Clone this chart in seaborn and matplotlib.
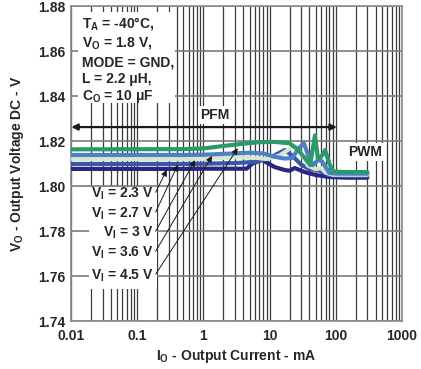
import numpy as np
import pandas as pd
import matplotlib
matplotlib.use("Agg")
import matplotlib.pyplot as plt
from matplotlib.patches import Rectangle
import seaborn as sns

# ---------------- data ----------------
vi_labels = ["2.3", "2.7", "3", "3.6", "4.5"]

x_23 = [0.01, 0.5, 1, 2, 4.5, 5.5, 7.7, 12, 17, 20, 24, 34, 50, 80, 150, 300]
v_23 = [1.8076, 1.8076, 1.8077, 1.8077, 1.8077, 1.8100, 1.8116, 1.8084, 1.8071, 1.8068, 1.8080, 1.8062, 1.8049, 1.8040, 1.8037, 1.8037]

x_27 = [0.01, 0.5, 1, 3, 6, 10, 17, 22, 30, 40, 55, 80, 150, 300]
v_27 = [1.8098, 1.8098, 1.8099, 1.8102, 1.8107, 1.8125, 1.8160, 1.8135, 1.8095, 1.8075, 1.8070, 1.8048, 1.8045, 1.8045]

x_30 = [0.01, 0.5, 1, 3, 6, 9, 14, 20, 24, 30, 38, 50, 60, 70, 90, 150, 300]
v_30 = [1.8120, 1.8120, 1.8121, 1.8128, 1.8126, 1.8120, 1.8135, 1.8165, 1.8180, 1.8145, 1.8090, 1.8075, 1.8080, 1.8060, 1.8050, 1.8050, 1.8050]

x_36 = [0.01, 0.5, 1, 3, 5, 8, 12, 17, 22, 28, 33, 40, 45, 54, 62, 80, 100, 300]
v_36 = [1.8138, 1.8138, 1.8139, 1.8145, 1.8148, 1.8145, 1.8130, 1.8122, 1.8125, 1.8170, 1.8190, 1.8120, 1.8093, 1.8115, 1.8110, 1.8058, 1.8055, 1.8055]

x_45 = [0.01, 0.5, 1, 2, 4, 7, 12, 20, 26, 34, 41, 48.5, 54, 62, 69, 80, 91, 130, 200, 300]
v_45 = [1.8163, 1.8164, 1.8167, 1.8178, 1.8188, 1.8195, 1.8196, 1.8190, 1.8165, 1.8125, 1.8093, 1.8225, 1.8120, 1.8135, 1.8160, 1.8100, 1.8065, 1.8062, 1.8062, 1.8062]

series_x = [x_23, x_27, x_30, x_36, x_45]
series_v = [v_23, v_27, v_30, v_36, v_45]
colors = ["#2b2585", "#3a56a8", "#d6e6cf", "#4f7fc4", "#2a9a6a"]

# arrow tips for V_I labels (current mA, voltage V)
tip_x = [0.28, 0.41, 0.75, 1.35, 3.3]
tip_v = [1.8072, 1.8094, 1.8115, 1.8134, 1.8168]
label_v = [1.7964, 1.7876, 1.7791, 1.7702, 1.7600]

x_ticks = [0.01, 0.1, 1, 10, 100, 1000]
x_tick_labels = ["0.01", "0.1", "1", "10", "100", "1000"]
y_ticks = [1.74, 1.76, 1.78, 1.80, 1.82, 1.84, 1.86, 1.88]

cond_lines = [r"T$_\mathbf{A}$ = -40°C,", r"V$_\mathbf{O}$ = 1.8 V,", "MODE = GND,",
              "L = 2.2 μH,", r"C$_\mathbf{O}$ = 10 μF"]
cond_v = [1.8724, 1.8636, 1.8551, 1.8476, 1.8400]

rows = []
for lab, xs, vs in zip(vi_labels, series_x, series_v):
    for a, b in zip(xs, vs):
        rows.append({"I": a, "V": b, "VI": lab})
df = pd.DataFrame(rows)

# ---------------- style ----------------
sns.set_style("white")
plt.rcParams["font.family"] = ["Liberation Sans", "DejaVu Sans"]
plt.rcParams["font.weight"] = "bold"
plt.rcParams["mathtext.fontset"] = "custom"
plt.rcParams["mathtext.rm"] = "Liberation Sans:bold"
plt.rcParams["mathtext.bf"] = "Liberation Sans:bold"
plt.rcParams["mathtext.default"] = "bf"

fig = plt.figure(figsize=(4.21, 3.69), dpi=100)
ax = fig.add_axes([0.1686, 0.130, 0.7862, 0.8537])

ax.set_xscale("log")
ax.set_xlim(0.01, 1000)
ax.set_ylim(1.74, 1.88)
ax.set_axisbelow(True)

ax.set_xticks(x_ticks)
ax.set_xticklabels(x_tick_labels)
ax.set_yticks(y_ticks)
ax.set_yticklabels([f"{t:.2f}" for t in y_ticks])
ax.tick_params(axis="both", which="both", length=0, labelsize=10)
ax.tick_params(axis="x", pad=6)
ax.tick_params(axis="y", pad=4)
for t in ax.get_xticklabels() + ax.get_yticklabels():
    t.set_fontweight("bold")

ax.grid(True, which="major", axis="y", color="#7a7a7a", lw=1.2)
ax.grid(True, which="both", axis="x", color="#3a3a3a", lw=0.9)
for s in ax.spines.values():
    s.set_color("#8a8a8a")
    s.set_linewidth(1.2)

# white boxes masking grid
ax.add_patch(Rectangle((0.0127, 1.8369), 0.372 - 0.0127, 1.8773 - 1.8369,
                       facecolor="white", edgecolor="none", zorder=1))
ax.add_patch(Rectangle((0.0185, 1.7542), 0.2 - 0.0185, 1.7995 - 1.7542,
                       facecolor="white", edgecolor="none", zorder=1))

sns.lineplot(data=df, x="I", y="V", hue="VI", hue_order=vi_labels,
             palette=colors, sort=False, estimator=None, legend=False,
             lw=3.0, ax=ax, zorder=3)

# condition text
for txt, yv in zip(cond_lines, cond_v):
    ax.text(0.0147, yv, txt, ha="left", va="center", fontsize=10,
            fontweight="bold", zorder=5)

# PFM arrow
ax.annotate("", xy=(0.0101, 1.8262), xytext=(104, 1.8262),
            arrowprops=dict(arrowstyle="<|-|>", color="#1a1a1a", lw=1.6,
                            mutation_scale=9, shrinkA=0, shrinkB=0), zorder=4)
ax.text(1.5, 1.8316, "PFM", ha="center", va="center", fontsize=10,
        fontweight="bold", zorder=5,
        bbox=dict(facecolor="white", edgecolor="none", pad=1.5))
ax.text(276, 1.8151, "PWM", ha="center", va="center", fontsize=10,
        fontweight="bold", zorder=5,
        bbox=dict(facecolor="white", edgecolor="none", pad=1.5))

# V_I labels with leader arrows
for lab, tx, tv, lv in zip(vi_labels, tip_x, tip_v, label_v):
    ax.text(0.178, lv, r"V$_\mathbf{I}$ = " + lab + " V", ha="right", va="center",
            fontsize=10, fontweight="bold", zorder=5)
    ax.annotate("", xy=(tx, tv), xytext=(0.19, lv + 0.0008),
                arrowprops=dict(arrowstyle="-|>", color="#1a1a1a", lw=0.7,
                                mutation_scale=9, shrinkA=0, shrinkB=0), zorder=4)

ax.set_xlabel(r"I$_\mathbf{O}$ - Output Current - mA", fontsize=10,
              fontweight="bold", labelpad=3)
ax.set_ylabel(r"V$_\mathbf{O}$ - Output Voltage DC - V", fontsize=10,
              fontweight="bold", labelpad=9)

fig.savefig("out.png", dpi=100)
